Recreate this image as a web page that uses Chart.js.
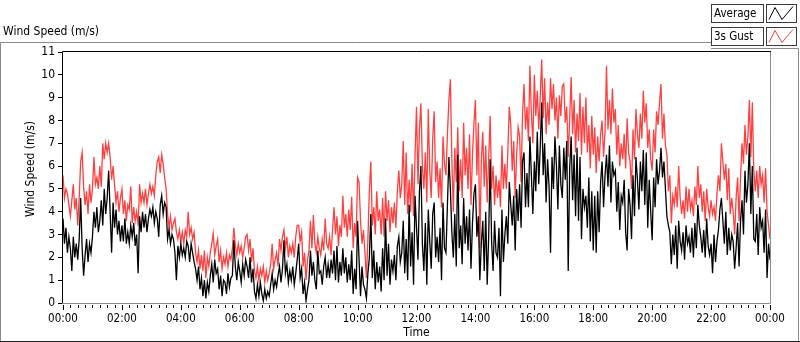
<!DOCTYPE html>
<html>
<head>
<meta charset="utf-8">
<title>Wind Speed (m/s)</title>
<script src="https://cdn.jsdelivr.net/npm/chart.js@4.4.0/dist/chart.umd.min.js"></script>
<style>
  html, body { margin: 0; padding: 0; background: #fff; }
  #wind_chart { display: block; }
</style>
</head>
<body>
<canvas id="wind_chart" width="800" height="342"></canvas>
<script>
"use strict";

// one sample every 3 minutes, 00:00 -> 24:00
var sampleMinutes = 3;
var labelEveryMinutes = 120;
var minorTickMinutes = 15;
var timeLabels = ['00:00', '02:00', '04:00', '06:00', '08:00', '10:00', '12:00',
  '14:00', '16:00', '18:00', '20:00', '22:00', '00:00'];
var speedTicks = [0, 1, 2, 3, 4, 5, 6, 7, 8, 9, 10, 11];
var chartTitle = 'Wind Speed (m/s)';
var yAxisTitle = 'Wind Speed (m/s)';
var xAxisTitle = 'Time';
var seriesNames = ['Average', '3s Gust'];

var gustValues = [
  5.6, 4.6, 5.0, 4.8, 4.3, 3.8, 4.5, 5.2, 4.1, 4.6, 3.4, 4.6, 6.2, 6.6, 5.1, 4.3, 4.9, 3.9, 5.2, 4.4,
  5.0, 6.4, 5.2, 5.5, 5.0, 6.0, 5.1, 7.0, 6.3, 7.0, 6.6, 7.0, 6.4, 5.4, 6.0, 5.2, 4.4, 4.9, 4.0, 4.6,
  5.0, 3.9, 4.5, 3.6, 4.3, 4.1, 5.1, 3.5, 4.2, 3.6, 4.0, 3.4, 5.2, 4.4, 4.8, 4.4, 5.0, 4.3, 4.8, 5.2,
  4.8, 5.1, 4.7, 5.6, 6.2, 6.4, 5.7, 6.5, 6.1, 5.5, 5.0, 3.9, 3.3, 3.8, 3.2, 3.5, 3.7, 3.1, 2.8, 3.2,
  2.7, 3.1, 2.6, 3.2, 2.9, 4.0, 3.0, 3.3, 2.8, 3.1, 2.2, 1.8, 2.3, 1.5, 2.1, 1.4, 2.3, 1.1, 2.0, 1.6,
  2.2, 2.6, 3.05, 2.1, 2.5, 2.8, 1.8, 2.3, 1.5, 2.0, 1.7, 2.2, 1.6, 2.1, 1.9, 2.4, 3.3, 2.5, 2.1, 2.6,
  2.2, 2.5, 2.0, 2.4, 2.9, 3.0, 2.3, 2.8, 1.8, 2.4, 1.4, 1.1, 1.6, 1.0, 1.5, 1.2, 1.6, 0.9, 1.4, 1.0,
  1.3, 1.7, 2.6, 1.5, 1.9, 2.2, 1.6, 2.8, 2.3, 2.9, 3.2, 2.4, 2.9, 2.0, 2.5, 2.2, 2.6, 2.0, 2.9, 3.4,
  3.4, 2.7, 3.1, 1.6, 2.2, 1.0, 1.9, 2.3, 3.6, 2.4, 3.85, 2.6, 2.2, 2.9, 2.4, 2.1, 2.8, 2.3, 3.7, 2.6,
  2.4, 2.9, 2.1, 3.2, 4.2, 3.0, 3.8, 2.5, 3.4, 2.9, 4.7, 3.3, 3.9, 2.9, 4.1, 3.2, 4.66, 2.4, 3.5, 2.9,
  5.5, 5.3, 3.6, 2.6, 3.2, 2.2, 1.1, 2.8, 4.95, 6.2, 3.4, 4.2, 3.0, 4.9, 3.6, 4.1, 3.0, 4.6, 2.9, 4.9,
  3.6, 4.5, 3.1, 4.2, 3.5, 4.4, 3.3, 4.9, 5.8, 4.6, 5.2, 7.1, 4.3, 6.6, 3.9, 5.4, 4.0, 6.1, 3.8, 6.4,
  8.6, 5.2, 7.6, 8.75, 6.0, 5.0, 6.6, 4.4, 8.5, 5.8, 4.6, 7.2, 8.4, 5.3, 6.2, 4.6, 5.9, 4.2, 7.3, 6.1,
  5.6, 7.4, 8.9, 9.8, 6.3, 4.0, 6.8, 5.3, 7.7, 4.9, 6.3, 4.6, 7.9, 5.6, 6.8, 5.0, 7.4, 4.3, 6.5, 7.9,
  8.9, 5.6, 7.9, 2.4, 6.2, 7.5, 5.1, 6.9, 4.4, 6.3, 8.2, 5.0, 6.0, 4.3, 5.6, 4.6, 5.4, 4.2, 6.9, 5.0,
  6.1, 5.0, 6.6, 8.6, 7.8, 5.8, 7.1, 4.6, 6.5, 7.7, 7.3, 5.3, 8.3, 9.6, 7.6, 8.6, 7.1, 10.4, 8.3, 7.0,
  10.0, 8.2, 9.3, 7.6, 9.0, 10.67, 8.1, 9.85, 7.4, 8.8, 7.8, 9.85, 8.5, 9.6, 8.0, 9.0, 7.2, 9.1, 8.2, 9.5,
  9.6, 7.9, 8.6, 6.4, 8.1, 9.9, 7.4, 8.9, 6.6, 8.3, 7.1, 9.2, 6.5, 8.6, 7.0, 9.0, 6.6, 7.8, 5.9, 8.2,
  6.5, 7.7, 5.7, 7.3, 6.2, 7.4, 8.0, 6.4, 7.5, 10.4, 7.6, 8.9, 7.4, 9.4, 7.9, 8.5, 6.5, 7.8, 6.0, 7.0,
  6.3, 7.4, 5.9, 8.1, 6.6, 6.2, 5.0, 7.6, 6.3, 8.5, 7.4, 6.8, 8.3, 7.2, 9.3, 7.9, 8.75, 6.8, 7.6, 6.3,
  5.8, 7.6, 6.6, 8.4, 7.8, 8.8, 9.6, 7.2, 8.3, 6.9, 6.5, 4.9, 5.6, 3.5, 4.7, 4.3, 5.1, 4.2, 6.0, 4.6,
  3.9, 4.5, 3.7, 5.1, 4.0, 5.0, 4.1, 4.5, 3.8, 5.1, 4.3, 6.0, 4.6, 5.2, 4.0, 4.9, 3.6, 5.0, 4.2, 3.8,
  4.5, 3.9, 4.2, 3.6, 4.8, 5.6, 4.9, 7.0, 6.2, 5.4, 6.1, 4.5, 5.9, 3.9, 4.6, 4.0, 3.0, 4.6, 5.5, 3.6,
  5.5, 7.0, 6.1, 7.8, 6.5, 7.3, 8.9, 6.4, 8.8, 5.8, 4.9, 5.8, 4.6, 6.0, 5.2, 5.6, 4.4, 5.9, 4.0, 3.4,
  2.8
];

var averageValues = [
  3.7, 2.6, 3.3, 2.2, 2.9, 2.4, 1.4, 2.9, 2.0, 2.6, 1.9, 2.8, 4.6, 2.4, 1.2, 2.1, 2.8, 1.8, 2.6, 2.2,
  2.9, 4.0, 3.3, 4.2, 3.1, 3.6, 4.5, 3.4, 5.0, 3.9, 4.6, 5.8, 4.0, 2.2, 4.4, 3.3, 4.1, 3.0, 3.6, 2.7,
  3.4, 2.7, 3.7, 2.6, 3.1, 2.6, 3.4, 2.9, 3.5, 2.5, 3.0, 1.3, 3.8, 3.1, 4.0, 3.3, 3.9, 3.1, 3.7, 4.1,
  3.8, 4.2, 3.5, 4.0, 3.7, 2.9, 4.3, 4.7, 3.9, 4.4, 4.2, 2.8, 3.2, 2.6, 3.0, 2.8, 2.2, 1.0, 2.5, 2.0,
  2.6, 2.1, 2.4, 2.0, 2.7, 2.5, 1.8, 2.6, 2.2, 1.8, 1.5, 1.0, 1.6, 0.6, 1.1, 0.3, 1.0, 0.2, 0.9, 0.5,
  1.2, 1.7, 0.9, 1.9, 1.3, 1.5, 0.6, 1.2, 0.3, 1.0, 0.9, 0.4, 1.3, 0.7, 1.1, 1.2, 2.75, 1.6, 1.0, 1.8,
  1.4, 0.9, 1.7, 1.2, 1.9, 1.6, 1.1, 2.0, 0.9, 1.5, 0.5, 0.2, 0.8, 0.3, 0.9, 0.4, 0.1, 0.6, 0.2, 0.5,
  0.3, 0.8, 1.3, 0.6, 1.0, 0.7, 1.2, 1.6, 0.9, 1.5, 2.75, 1.3, 1.7, 0.9, 1.4, 1.0, 1.6, 0.8, 1.3, 1.9,
  2.6, 1.1, 1.5, 0.4, 0.9, 0.1, 0.6, 1.0, 2.3, 1.2, 1.8, 1.0, 0.6, 2.3, 1.3, 1.4, 0.8, 1.6, 2.0, 1.1,
  1.7, 1.1, 1.9, 1.3, 2.3, 1.0, 2.5, 0.9, 1.8, 1.2, 2.4, 1.3, 2.0, 0.9, 1.7, 1.0, 2.3, 0.4, 1.5, 0.6,
  3.6, 1.9, 0.3, 1.6, 0.8, 0.6, 0.2, 1.3, 2.0, 3.9, 1.1, 2.3, 0.6, 1.8, 0.9, 1.6, 0.5, 2.4, 1.0, 3.7,
  1.2, 2.6, 0.8, 1.9, 1.4, 2.1, 1.0, 2.5, 2.9, 1.8, 2.2, 3.6, 1.3, 2.8, 1.0, 4.3, 1.6, 3.1, 0.8, 4.7,
  3.3, 1.9, 4.9, 6.0, 2.6, 1.4, 3.5, 0.8, 4.1, 2.7, 1.5, 3.9, 4.4, 2.0, 2.9, 1.8, 3.3, 1.0, 4.4, 2.4,
  2.2, 4.3, 6.4, 5.0, 3.1, 2.0, 3.9, 1.6, 6.5, 2.4, 3.4, 1.7, 4.6, 2.6, 3.8, 2.3, 4.1, 1.5, 3.5, 4.8,
  5.2, 2.9, 3.8, 1.0, 2.6, 3.6, 1.4, 4.0, 0.8, 2.9, 6.3, 2.7, 1.4, 3.6, 2.2, 2.0, 3.3, 0.3, 4.1, 1.8,
  3.0, 3.8, 2.6, 5.3, 4.3, 3.4, 4.7, 2.3, 5.0, 3.6, 5.2, 3.3, 6.2, 6.6, 4.2, 5.7, 4.2, 7.3, 5.6, 3.9,
  6.2, 4.9, 7.5, 5.2, 6.8, 8.8, 5.6, 7.0, 4.4, 6.3, 5.1, 2.2, 6.4, 5.0, 7.3, 6.0, 4.1, 6.9, 5.2, 4.6,
  6.8, 5.4, 7.1, 1.4, 5.9, 7.3, 4.5, 6.5, 3.8, 6.8, 3.6, 6.4, 2.8, 5.0, 4.2, 4.7, 3.3, 5.5, 2.7, 4.9,
  2.3, 4.7, 2.2, 4.9, 3.1, 5.3, 6.2, 4.2, 5.6, 6.5, 5.1, 6.9, 4.4, 6.2, 5.6, 5.8, 4.0, 5.3, 3.2, 4.7,
  4.4, 5.4, 3.1, 2.3, 5.0, 4.3, 2.8, 5.6, 3.8, 6.4, 5.4, 4.1, 6.2, 4.9, 6.7, 4.3, 6.6, 3.3, 5.4, 4.0,
  2.75, 5.5, 4.2, 6.3, 5.2, 5.8, 6.8, 5.5, 6.2, 5.0, 3.8, 3.4, 3.1, 1.7, 3.0, 2.1, 3.4, 1.5, 3.6, 2.7,
  2.3, 3.1, 1.9, 3.4, 2.6, 2.9, 2.2, 3.3, 2.0, 3.5, 2.4, 4.3, 3.4, 2.9, 2.2, 3.2, 2.0, 3.7, 2.5, 2.1,
  2.6, 1.3, 3.0, 1.8, 2.7, 3.2, 4.1, 4.6, 3.6, 2.6, 4.0, 2.1, 3.3, 2.3, 3.0, 2.7, 1.5, 2.4, 3.5, 1.6,
  3.6, 4.5, 3.0, 5.8, 4.4, 5.2, 7.0, 3.9, 6.0, 2.8, 2.7, 3.9, 2.1, 4.2, 3.3, 3.6, 2.2, 4.1, 1.1, 2.6,
  1.9
];

(function () {
  var build_points, chart_args, font_family, frame_plugin, text_color, total_minutes;
  font_family = '"DejaVu Sans Condensed", "Liberation Sans", sans-serif';
  text_color = '#000';
  total_minutes = (averageValues.length - 1) * sampleMinutes;

  build_points = function (values) {
    return values.map(function (value, i) {
      return { x: i * sampleMinutes, y: value };
    });
  };

  // LabVIEW look: frame, time axis tick marks, titles and the legend boxes
  frame_plugin = {
    id: 'labview_frame',
    afterDraw: function (chart) {
      var area, ctx, m, px, x_scale, len;
      ctx = chart.ctx;
      area = chart.chartArea;
      x_scale = chart.scales.x;
      ctx.save();
      ctx.lineWidth = 1;

      // outer panel
      ctx.strokeStyle = '#8a8a8a';
      ctx.beginPath();
      ctx.moveTo(0.5, 342);
      ctx.lineTo(0.5, 42.5);
      ctx.lineTo(711, 42.5);
      ctx.moveTo(711, 48.5);
      ctx.lineTo(798.5, 48.5);
      ctx.lineTo(798.5, 341);
      ctx.stroke();
      ctx.strokeStyle = '#1e1e1e';
      ctx.beginPath();
      ctx.moveTo(0, 341.5);
      ctx.lineTo(800, 341.5);
      ctx.stroke();

      // plot frame: dark top/left, grey right/bottom
      ctx.strokeStyle = '#000';
      ctx.beginPath();
      ctx.moveTo(area.left - 0.5, area.bottom);
      ctx.lineTo(area.left - 0.5, area.top - 0.5);
      ctx.lineTo(area.right + 1, area.top - 0.5);
      ctx.stroke();
      ctx.strokeStyle = '#8c8c8c';
      ctx.beginPath();
      ctx.moveTo(area.right + 0.5, area.top);
      ctx.lineTo(area.right + 0.5, area.bottom + 0.5);
      ctx.lineTo(area.left - 1, area.bottom + 0.5);
      ctx.stroke();

      // time ticks: long every 2 h, short every 15 min
      ctx.strokeStyle = '#000';
      for (m = 0; m <= total_minutes; m += minorTickMinutes) {
        px = Math.round(x_scale.getPixelForValue(m)) + 0.5;
        len = m % labelEveryMinutes === 0 ? 7 : 5;
        ctx.beginPath();
        ctx.moveTo(px, area.bottom + 2);
        ctx.lineTo(px, area.bottom + len);
        ctx.stroke();
      }

      // titles
      ctx.fillStyle = text_color;
      ctx.font = '12px ' + font_family;
      ctx.textAlign = 'left';
      ctx.textBaseline = 'middle';
      ctx.fillText(chartTitle, 3, 32);
      ctx.save();
      ctx.translate(31, 169);
      ctx.rotate(-Math.PI / 2);
      ctx.textAlign = 'center';
      ctx.fillText(yAxisTitle, 0, 0);
      ctx.restore();

      // legend
      ctx.font = '11.5px ' + font_family;
      chart.data.datasets.forEach(function (ds, i) {
        var top;
        top = 4.5 + i * 23;
        ctx.fillStyle = '#fff';
        ctx.strokeStyle = '#3a3a3a';
        ctx.fillRect(711.5, top, 52, 18);
        ctx.strokeRect(711.5, top, 52, 18);
        ctx.fillRect(766.5, top, 30, 18);
        ctx.strokeRect(766.5, top, 30, 18);
        ctx.fillStyle = text_color;
        ctx.textAlign = 'left';
        ctx.fillText(ds.label, 714, top + 9.5);
        ctx.strokeStyle = ds.borderColor;
        ctx.beginPath();
        ctx.moveTo(769, top + 15);
        ctx.lineTo(775, top + 3);
        ctx.lineTo(782, top + 15);
        ctx.lineTo(793, top + 2);
        ctx.stroke();
      });
      ctx.restore();
    }
  };

  chart_args = {
    type: 'line',
    data: {
      datasets: [{
        label: seriesNames[0],
        data: build_points(averageValues),
        borderColor: '#000000',
        borderWidth: 1.3,
        pointRadius: 0,
        tension: 0,
        fill: false
      }, {
        label: seriesNames[1],
        data: build_points(gustValues),
        borderColor: '#ff4040',
        borderWidth: 1.3,
        pointRadius: 0,
        tension: 0,
        fill: false
      }]
    },
    options: {
      responsive: false,
      animation: false,
      devicePixelRatio: 1,
      layout: {
        padding: { top: 52, right: 30, left: 0, bottom: 0 }
      },
      plugins: {
        legend: { display: false },
        tooltip: { enabled: false },
        title: { display: false }
      },
      scales: {
        x: {
          type: 'linear',
          min: 0,
          max: total_minutes,
          afterFit: function (scale) {
            scale.height = 39;
          },
          border: { display: false },
          grid: { display: false, drawTicks: false },
          ticks: {
            stepSize: labelEveryMinutes,
            autoSkip: false,
            maxRotation: 0,
            padding: 9,
            color: text_color,
            font: { family: font_family, size: 11.5 },
            callback: function (value) {
              return timeLabels[Math.round(value / labelEveryMinutes)];
            }
          },
          title: {
            display: true,
            text: xAxisTitle,
            color: text_color,
            font: { family: font_family, size: 12 },
            padding: { top: 0, bottom: 2 }
          }
        },
        y: {
          type: 'linear',
          min: speedTicks[0],
          max: speedTicks[speedTicks.length - 1],
          afterFit: function (scale) {
            scale.width = 63;
          },
          border: { display: false },
          grid: {
            drawOnChartArea: false,
            drawTicks: true,
            tickLength: 5,
            tickColor: '#000'
          },
          ticks: {
            stepSize: 1,
            padding: 3,
            color: text_color,
            font: { family: font_family, size: 12 }
          }
        }
      }
    },
    plugins: [frame_plugin]
  };

  new Chart(document.getElementById('wind_chart').getContext('2d'), chart_args);
}).call(void 0);
</script>
</body>
</html>
